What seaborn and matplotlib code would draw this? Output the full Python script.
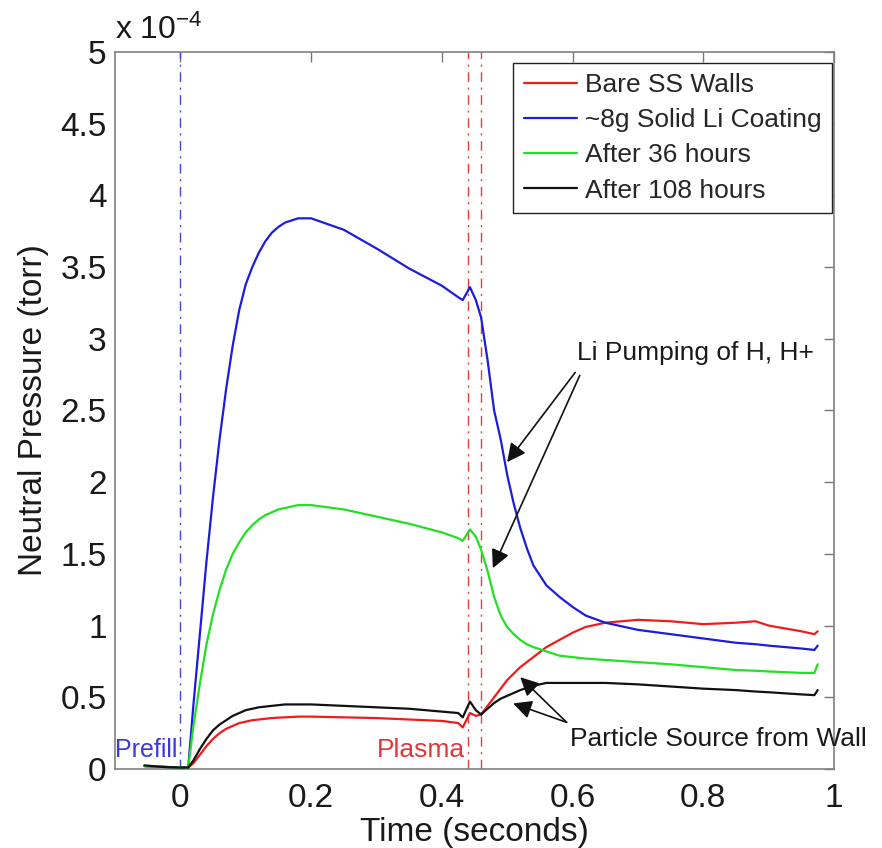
import matplotlib
matplotlib.use("Agg")
import matplotlib.pyplot as plt
import numpy as np
import pandas as pd
import seaborn as sns

# ---- data (pressure in units of 1e-4 torr) ----
time_s = [-0.055, -0.03, 0.0, 0.012, 0.02, 0.03, 0.04, 0.05, 0.06, 0.07, 0.08, 0.09,
          0.10, 0.11, 0.12, 0.13, 0.14, 0.15, 0.16, 0.18, 0.20, 0.25, 0.30, 0.35, 0.40,
          0.425, 0.432, 0.443, 0.452, 0.46, 0.47, 0.48, 0.49, 0.50, 0.51, 0.52, 0.53,
          0.54, 0.56, 0.58, 0.60, 0.62, 0.65, 0.70, 0.75, 0.80, 0.85, 0.88, 0.90, 0.95,
          0.97, 0.975]

bare_ss = [0.02, 0.015, 0.01, 0.01, 0.04, 0.10, 0.16, 0.21, 0.25, 0.28, 0.30, 0.32,
           0.33, 0.34, 0.345, 0.35, 0.355, 0.358, 0.36, 0.365, 0.365, 0.36, 0.355, 0.345,
           0.335, 0.32, 0.29, 0.39, 0.37, 0.38, 0.44, 0.50, 0.56, 0.62, 0.665, 0.71,
           0.745, 0.78, 0.85, 0.90, 0.95, 0.99, 1.02, 1.04, 1.03, 1.01, 1.02, 1.03,
           1.00, 0.96, 0.94, 0.96]

li_coating = [0.02, 0.015, 0.01, 0.01, 0.45, 0.95, 1.45, 1.90, 2.30, 2.65, 2.95, 3.20,
              3.38, 3.50, 3.60, 3.68, 3.74, 3.78, 3.81, 3.84, 3.84, 3.76, 3.63, 3.49,
              3.37, 3.29, 3.27, 3.36, 3.27, 3.15, 2.85, 2.50, 2.30, 2.05, 1.85, 1.68,
              1.54, 1.42, 1.28, 1.20, 1.13, 1.07, 1.02, 0.97, 0.94, 0.91, 0.88, 0.87,
              0.86, 0.84, 0.83, 0.86]

after_36h = [0.02, 0.015, 0.01, 0.01, 0.30, 0.60, 0.87, 1.08, 1.25, 1.39, 1.50, 1.58,
             1.65, 1.70, 1.74, 1.77, 1.79, 1.81, 1.82, 1.84, 1.84, 1.81, 1.76, 1.71,
             1.65, 1.61, 1.59, 1.67, 1.62, 1.53, 1.38, 1.20, 1.07, 0.99, 0.94, 0.90,
             0.87, 0.85, 0.82, 0.79, 0.78, 0.77, 0.76, 0.745, 0.73, 0.71, 0.69, 0.685,
             0.68, 0.67, 0.67, 0.73]

after_108h = [0.025, 0.015, 0.01, 0.01, 0.06, 0.14, 0.21, 0.27, 0.31, 0.34, 0.37, 0.39,
              0.41, 0.42, 0.43, 0.435, 0.44, 0.445, 0.45, 0.45, 0.45, 0.44, 0.43, 0.42,
              0.40, 0.39, 0.36, 0.47, 0.41, 0.38, 0.42, 0.46, 0.49, 0.51, 0.53, 0.55,
              0.565, 0.58, 0.60, 0.60, 0.60, 0.60, 0.60, 0.59, 0.575, 0.56, 0.55, 0.54,
              0.535, 0.52, 0.515, 0.55]

series_names = ["Bare SS Walls", "~8g Solid Li Coating", "After 36 hours", "After 108 hours"]
series_colors = ["#f01c1c", "#1c1ce0", "#22e022", "#111111"]

x_ticks = [0, 0.2, 0.4, 0.6, 0.8, 1.0]
x_tick_labels = ["0", "0.2", "0.4", "0.6", "0.8", "1"]
y_ticks = [0, 0.5, 1, 1.5, 2, 2.5, 3, 3.5, 4, 4.5, 5]
y_tick_labels = ["0", "0.5", "1", "1.5", "2", "2.5", "3", "3.5", "4", "4.5", "5"]

prefill_time = 0.0
plasma_times = [0.44, 0.46]

# ---- build long table ----
frames = []
for name, vals in zip(series_names, [bare_ss, li_coating, after_36h, after_108h]):
    frames.append(pd.DataFrame({"Time": time_s, "Pressure": vals, "Series": name}))
df = pd.concat(frames, ignore_index=True)

sns.set_theme(style="white")
plt.rcParams["font.family"] = ["Liberation Sans", "DejaVu Sans"]
plt.rcParams["mathtext.fontset"] = "custom"
plt.rcParams["mathtext.rm"] = "Liberation Sans"
plt.rcParams["mathtext.it"] = "Liberation Sans:italic"

fig = plt.figure(figsize=(8.82, 8.48), dpi=100)
ax = fig.add_axes([0.1304, 0.0932, 0.8152, 0.8455])

# reference lines
ax.axvline(prefill_time, color="#4444cc", lw=1.0, ls=(0, (7, 4, 1.5, 4)), zorder=1)
for pt in plasma_times:
    ax.axvline(pt, color="#e04040", lw=1.0, ls=(0, (7, 4, 1.5, 4)), zorder=1)

sns.lineplot(data=df, x="Time", y="Pressure", hue="Series", hue_order=series_names,
             palette=dict(zip(series_names, series_colors)), estimator=None,
             sort=False, lw=1.6, ax=ax, zorder=3)

ax.set_xlim(-0.1, 1.0)
ax.set_ylim(0, 5)
ax.set_xticks(x_ticks)
ax.set_xticklabels(x_tick_labels)
ax.set_yticks(y_ticks)
ax.set_yticklabels(y_tick_labels)
ax.tick_params(axis="both", direction="in", length=7, width=1, color="#777777",
               labelcolor="#1a1a1a", labelsize=24, top=True, right=True)
ax.tick_params(axis="x", pad=10)
ax.tick_params(axis="y", pad=6)
for sp in ax.spines.values():
    sp.set_color("#808080")
    sp.set_linewidth(1.2)

ax.set_xlabel("Time (seconds)", fontsize=24, color="#1a1a1a", labelpad=2)
ax.set_ylabel("Neutral Pressure (torr)", fontsize=24, color="#1a1a1a", labelpad=8)

ax.text(0.0, 1.008, r"x 10$^{-4}$", transform=ax.transAxes, ha="left", va="bottom",
        fontsize=23, color="#1a1a1a")

leg = ax.legend(loc="upper right", bbox_to_anchor=(0.997, 0.985), borderaxespad=0,
                fontsize=19, frameon=True, fancybox=False, edgecolor="#222222",
                handlelength=2.0, handletextpad=0.3, labelspacing=0.42,
                borderpad=0.4, framealpha=1)
leg.get_frame().set_linewidth(1.0)
for line in leg.get_lines():
    line.set_linewidth(1.6)

# annotations
arrow_kw = dict(arrowstyle="-|>", color="#111111", lw=1.2, mutation_scale=28,
                shrinkA=0, shrinkB=0)
ax.text(0.607, 2.90, "Li Pumping of H, H+", fontsize=19, color="#1a1a1a",
        ha="left", va="center")
ax.annotate("", xy=(0.50, 2.14), xytext=(0.604, 2.765), arrowprops=arrow_kw)
ax.annotate("", xy=(0.478, 1.40), xytext=(0.611, 2.744), arrowprops=arrow_kw)

ax.text(0.596, 0.21, "Particle Source from Wall", fontsize=19, color="#1a1a1a",
        ha="left", va="center", clip_on=False)
ax.annotate("", xy=(0.52, 0.64), xytext=(0.591, 0.325), arrowprops=arrow_kw)
ax.annotate("", xy=(0.509, 0.457), xytext=(0.591, 0.325), arrowprops=arrow_kw)

ax.text(-0.1, 0.13, "Prefill", fontsize=18, color="#3a3ad8", ha="left", va="center")
ax.text(0.435, 0.13, "Plasma", fontsize=19, color="#e03838", ha="right", va="center")

fig.savefig("out.png", dpi=100, facecolor="white")
